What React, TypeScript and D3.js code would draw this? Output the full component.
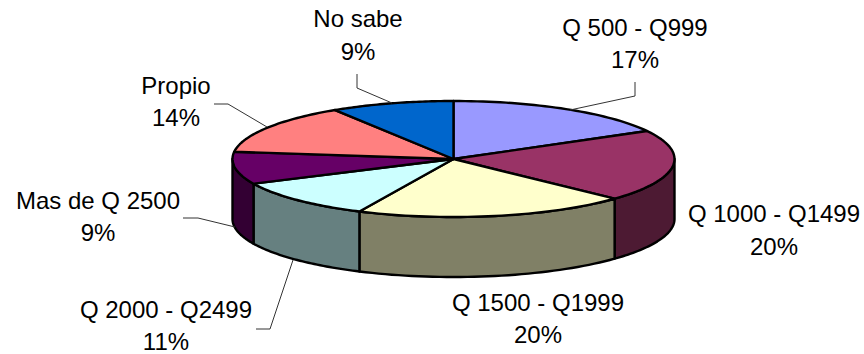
import React from "react";
import * as d3 from "d3";

const categories = ["Q 500 - Q999", "Q 1000 - Q1499", "Q 1500 - Q1999", "Q 2000 - Q2499", "Mas de Q 2500", "Propio", "No sabe"];
const shares = [17, 20, 20, 11, 9, 14, 9];
const topColors = ["#9999FF", "#993366", "#FFFFCC", "#CCFFFF", "#660066", "#FF8080", "#0066CC"];
const sideColors = ["#4D4D80", "#4D1A33", "#808066", "#668080", "#330033", "#804040", "#003366"];

const WIDTH = 864;
const HEIGHT = 354;
const CX = 453.5;
const CY = 159;
const RX = 221;
const RY = 58;
const DEPTH = 60;

// Label anchor (two baselines) and leader polyline for each category.
const labelLayout = [
  { x: 635, y1: 36, y2: 68, leader: [[635, 82], [635, 96], [570, 110]] },
  { x: 774, y1: 222, y2: 255, leader: [] },
  { x: 538, y1: 311, y2: 343, leader: [] },
  { x: 166, y1: 318, y2: 350, leader: [[256, 329], [270, 329], [293, 260]] },
  { x: 98, y1: 209, y2: 241, leader: [[183, 218], [198, 218], [235, 227]] },
  { x: 176, y1: 94, y2: 126, leader: [[214, 104], [228, 104], [267, 127]] },
  { x: 358, y1: 27, y2: 60, leader: [[357, 74], [357, 88], [392, 103]] },
];

const pieAngles = d3.pie<number>().sort(null).value((d) => d)(shares);

const project = (a: number, dy = 0): [number, number] => [
  CX + RX * Math.sin(a),
  CY - RY * Math.cos(a) + dy,
];

const arcSteps = (a0: number, a1: number) =>
  d3.range(0, 41).map((i) => a0 + ((a1 - a0) * i) / 40);

// Outline of the rim wall between two angles: along the top edge, back along the bottom.
const wallPath = (a0: number, a1: number) => {
  const from = Math.max(a0, Math.PI / 2);
  const to = Math.min(a1, (3 * Math.PI) / 2);
  if (to <= from) return null;
  const steps = arcSteps(from, to);
  const pts = [
    ...steps.map((a) => project(a)),
    ...steps.slice().reverse().map((a) => project(a, DEPTH)),
  ];
  return d3.line()(pts) + "Z";
};

const wedgePath = (a0: number, a1: number) =>
  "M" + [CX, CY].join(",") + "L" + arcSteps(a0, a1).map((a) => project(a).join(",")).join("L") + "Z";

const leaderLine = d3.line();

export default function App() {
  const font = "'Liberation Sans', Arial, sans-serif";
  return (
    <svg
      width={WIDTH}
      height={HEIGHT}
      viewBox={`0 0 ${WIDTH} ${HEIGHT}`}
      style={{ position: "absolute", left: 0, top: 0, background: "#fff" }}
    >
      {pieAngles.map((d, i) => {
        const p = wallPath(d.startAngle, d.endAngle);
        return p ? (
          <path key={i} d={p} fill={sideColors[i]} stroke="#000" strokeWidth={2.4} strokeLinejoin="round" />
        ) : null;
      })}
      {pieAngles.map((d, i) => (
        <path
          key={i}
          d={wedgePath(d.startAngle, d.endAngle)}
          fill={topColors[i]}
          stroke="#000"
          strokeWidth={2.4}
          strokeLinejoin="round"
        />
      ))}
      {labelLayout.map((l, i) =>
        l.leader.length ? (
          <path key={i} d={leaderLine(l.leader as [number, number][]) as string} fill="none" stroke="#333" strokeWidth={1} />
        ) : null
      )}
      {categories.map((c, i) => (
        <g key={c} fontFamily={font} fontSize={24} fill="#000" textAnchor="middle">
          <text x={labelLayout[i].x} y={labelLayout[i].y1}>{c}</text>
          <text x={labelLayout[i].x} y={labelLayout[i].y2}>{shares[i]}%</text>
        </g>
      ))}
    </svg>
  );
}
